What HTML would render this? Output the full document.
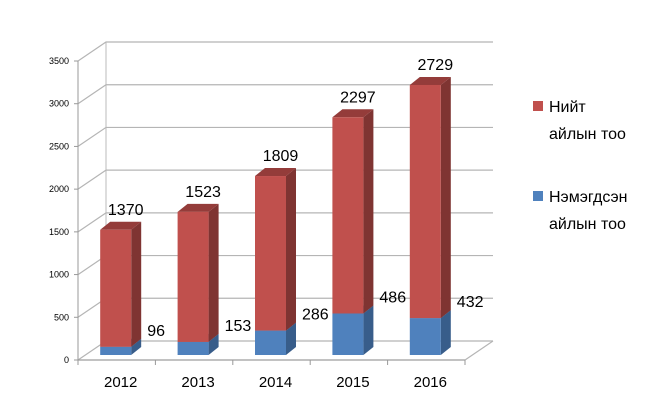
<!DOCTYPE html>
<html><head><meta charset="utf-8"><style>
body{margin:0;background:#fff;}
svg{display:block;font-family:"Liberation Sans","DejaVu Sans",sans-serif;}
</style></head><body>
<svg id="chart" width="652" height="419" viewBox="0 0 652 419" xmlns="http://www.w3.org/2000/svg">
<g id="grid"></g>
<g id="axes"></g>
<g id="bars"></g>
<g id="labels"></g>
<g>
  <rect x="533" y="101" width="10" height="10" fill="#C0504D"/>
  <text x="549" y="112" font-size="16" fill="#000">Нийт</text>
  <text x="549" y="139" font-size="16" fill="#000">айлын тоо</text>
  <rect x="533" y="191" width="10" height="10" fill="#4F81BD"/>
  <text x="549" y="202" font-size="16" fill="#000">Нэмэгдсэн</text>
  <text x="549" y="229" font-size="16" fill="#000">айлын тоо</text>
</g>
</svg>
<script>
const categories = ["2012","2013","2014","2015","2016"];
const totalValues = [1370,1523,1809,2297,2729];
const newValues = [96,153,286,486,432];
const yTicks = [0,500,1000,1500,2000,2500,3000,3500];

const NS="http://www.w3.org/2000/svg";
const x0=78, plotW=387, y0=360, yMax=3500, pxPerUnit=(360-61)/3500;
const dx=28, dy=-19; // back-wall depth
const bdx=10, bdy=-8; // bar depth
const step=plotW/categories.length;
function yF(v){return y0 - v*pxPerUnit;}
function xBand(i){return x0 + step*i;}
function mk(tag,attrs,parent){const e=document.createElementNS(NS,tag);for(const k in attrs)e.setAttribute(k,attrs[k]);parent.appendChild(e);return e;}
const grid=document.getElementById('grid'),axes=document.getElementById('axes'),bars=document.getElementById('bars'),labels=document.getElementById('labels');

// back wall left edge and floor
let l=mk('line',{x1:x0+dx,y1:yF(0)+dy,x2:x0+dx,y2:yF(yMax)+dy,stroke:'#bbb'},grid);


yTicks.forEach(v=>{
  const y=yF(v);
  const p=mk('polyline',{points:`${x0},${y} ${x0+dx},${y+dy} ${x0+dx+plotW},${y+dy}`,fill:'none',stroke:'#b5b5b5','stroke-width':1.2},grid);
  
  
  const t=mk('text',{x:x0-9,y:y+3,'font-size':9,'text-anchor':'end',fill:'#000'},axes);
  t.textContent=v;
  
  
  const tk=mk('line',{x1:x0-4,y1:y,x2:x0,y2:y,stroke:'#999'},axes);
  
  
});
// floor front/right
let fl=mk('polyline',{points:`${x0},${y0} ${x0+plotW},${y0} ${x0+plotW+dx},${y0+dy}`,fill:'none',stroke:'#b5b5b5','stroke-width':1.2},grid);


let ya=mk('line',{x1:x0,y1:yF(yMax),x2:x0,y2:y0+5,stroke:'#999'},axes);


let xa=mk('line',{x1:x0,y1:y0,x2:x0+plotW,y2:y0,stroke:'#999'},axes);


for(let i=0;i<=categories.length;i++){
  const t=mk('line',{x1:xBand(i),y1:y0,x2:xBand(i),y2:y0+5,stroke:'#999'},axes);
  
  
}
categories.forEach((c,i)=>{
  const t=mk('text',{x:xBand(i)+step/2+4,y:y0+27,'font-size':15,'text-anchor':'middle',fill:'#000'},axes);
  t.textContent=c;
  
  
});

function box(x,w,yb,yt,front,side,top,name){
  const g=mk('g',{},bars);
  
  
  mk('polygon',{points:`${x+w},${yb} ${x+w+bdx},${yb+bdy} ${x+w+bdx},${yt+bdy} ${x+w},${yt}`,fill:side},g);
  mk('polygon',{points:`${x},${yt} ${x+bdx},${yt+bdy} ${x+w+bdx},${yt+bdy} ${x+w},${yt}`,fill:top},g);
  mk('rect',{x:x,y:yt,width:w,height:yb-yt,fill:front},g);
}
const bw=31, yBase=355;
categories.forEach((c,i)=>{
  const x=xBand(i)+step/2-7-bw/2+6;
  const nv=newValues[i], tv=totalValues[i];
  const yb=yBase, yn=yBase-nv*pxPerUnit, yt=yBase-(nv+tv)*pxPerUnit;
  box(x,bw,yb,yn,'#4F81BD','#385D8A','#4A78AE','bar-new-'+c);
  box(x,bw,yn,yt,'#C0504D','#7F3432','#943C3A','bar-total-'+c);
  const t1=mk('text',{x:x+bw/2+10,y:yt-15,'font-size':16,'text-anchor':'middle',fill:'#000'},labels);
  t1.textContent=tv;
  
  
  const t2=mk('text',{x:x+bw+16,y:yn-11,'font-size':16,'text-anchor':'start',fill:'#000'},labels);
  t2.textContent=nv;
  
  
});
</script>
</body></html>
